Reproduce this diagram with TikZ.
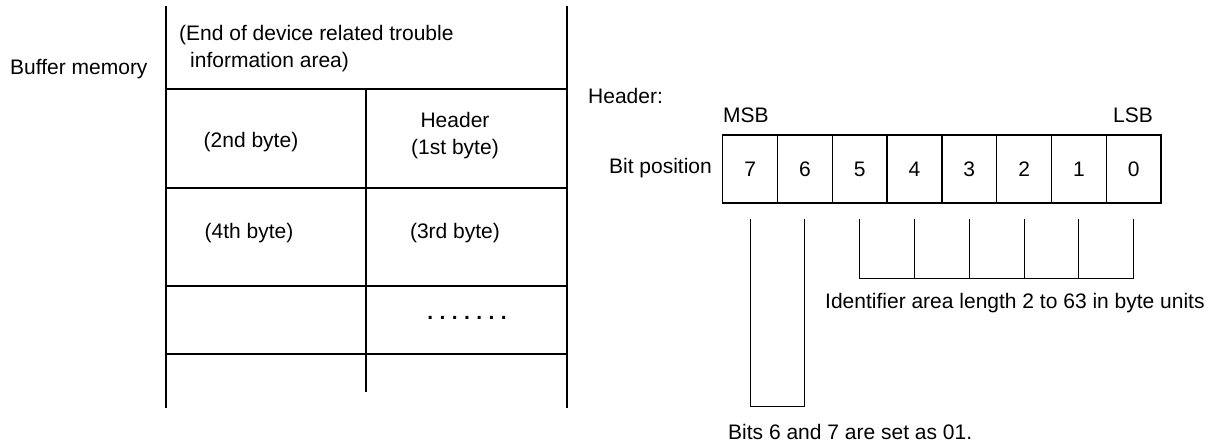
\documentclass[tikz,border=0pt]{standalone}
\usepackage{fontspec}
\setmainfont{Liberation Sans}
\usetikzlibrary{calc}
\newcommand\dotgap{\hspace{6.4pt}}
\begin{document}
\begin{tikzpicture}[x=1pt,y=-1pt,
  txt/.style={inner sep=0pt,font=\fontsize{21}{27}\selectfont},
  tbl/.style={line width=2pt},
  bitcell/.style={draw,line width=1.3pt,minimum width=54.8pt,minimum height=68pt,inner sep=0pt,font=\fontsize{21}{27}\selectfont},
  brk/.style={line width=1pt}]
\useasboundingbox (0,0) rectangle (1225,446);
% buffer memory table
\coordinate (tl) at (166,6);
\coordinate (tr) at (567,6);
\coordinate (bl) at (166,408);
\coordinate (br) at (567,408);
\coordinate (mt) at (366,89);
\coordinate (mb) at (366,392);
\draw[tbl] (tl) -- (bl);
\draw[tbl] (tr) -- (br);
\foreach \yy in {89,188,286,354} \draw[tbl] (166,\yy) -- (567,\yy);
\draw[tbl] (mt) -- (mb);
\node[txt,anchor=west] (bm) at (10,69) {Buffer memory};
\node[txt,anchor=north west,align=left] (endarea) at (179,25) {(End of device related trouble\\\hspace{11pt}information area)};
\node[txt] (b2) at (251,142) {(2nd byte)};
\node[txt,align=center] (b1) at (455,136) {Header\\(1st byte)};
\node[txt] (b4) at (249,233) {(4th byte)};
\node[txt] (b3) at (455,233) {(3rd byte)};
\node[txt,font=\fontsize{21}{27}\selectfont\bfseries] (dots) at (467,318) {.\dotgap.\dotgap.\dotgap.\dotgap.\dotgap.\dotgap.};
% header bits
\node[txt,anchor=west] (hdr) at (588,96) {Header:};
\node[txt,anchor=west] (msb) at (723,115) {MSB};
\node[txt,anchor=east] (lsb) at (1153,115) {LSB};
\node[txt,anchor=east] (bitpos) at (712,168) {Bit position};
\foreach \b [count=\k from 0] in {7,6,5,4,3,2,1,0}
  \node[bitcell] (c\b) at (750.1+54.8*\k,169) {\b};
% brackets
\draw[brk] ([yshift=-15pt]c7.south) -- (c7.south |- 0,406) -- (c6.south |- 0,406) -- ([yshift=-15pt]c6.south);
\draw[brk] ([yshift=-15pt]c5.south) -- (c5.south |- 0,278) -- (c0.south |- 0,278) -- ([yshift=-15pt]c0.south);
\foreach \b in {4,3,2,1}
  \draw[brk] ([yshift=-15pt]c\b.south) -- (c\b.south |- 0,278);
\node[txt,anchor=west] (ident) at (825,303) {Identifier area length 2 to 63 in byte units};
\node[txt,anchor=west] (bits67) at (728,432) {Bits 6 and 7 are set as 01.};
\end{tikzpicture}
\end{document}
